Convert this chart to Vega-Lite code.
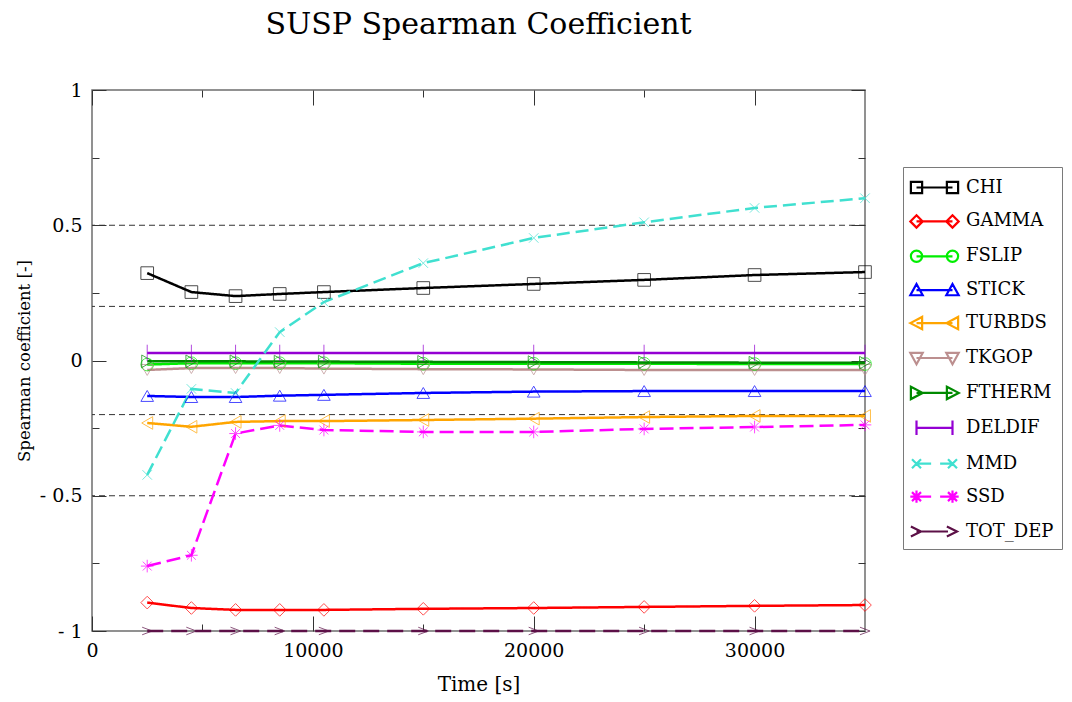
{
  "$schema": "https://vega.github.io/schema/vega-lite/v6.json",
  "width": 773,
  "height": 541,
  "autosize": {"type": "none"},
  "padding": {"left": 92, "top": 90, "right": 207, "bottom": 71},
  "title": {"text": "SUSP Spearman Coefficient", "font": "DejaVu Serif", "fontSize": 30, "fontWeight": "normal", "color": "#000", "baseline": "alphabetic", "offset": 17, "anchor": "middle"},
  "config": {
    "view": {"stroke": "#6e6e6e", "strokeWidth": 1.5},
    "axis": {"labelFont": "DejaVu Serif", "labelFontSize": 19, "labelColor": "#000", "titleFont": "DejaVu Serif", "titleFontSize": 20, "titleFontWeight": "normal", "titleColor": "#000", "domain": false, "grid": false, "tickColor": "#333", "tickWidth": 1, "labelFlush": false, "labelOverlap": false},
    "legend": {"labelFont": "DejaVu Serif", "labelFontSize": 18, "labelColor": "#000"}
  },
  "datasets": {
    "d": [
      {"t":2500,"s":"CHI","v":0.323},{"t":4500,"s":"CHI","v":0.253},{"t":6500,"s":"CHI","v":0.238},{"t":8500,"s":"CHI","v":0.246},{"t":10500,"s":"CHI","v":0.253},{"t":15000,"s":"CHI","v":0.268},{"t":20000,"s":"CHI","v":0.283},{"t":25000,"s":"CHI","v":0.298},{"t":30000,"s":"CHI","v":0.316},{"t":35000,"s":"CHI","v":0.327},
      {"t":2500,"s":"GAMMA","v":-0.895},{"t":4500,"s":"GAMMA","v":-0.915},{"t":6500,"s":"GAMMA","v":-0.922},{"t":8500,"s":"GAMMA","v":-0.922},{"t":10500,"s":"GAMMA","v":-0.922},{"t":15000,"s":"GAMMA","v":-0.918},{"t":20000,"s":"GAMMA","v":-0.915},{"t":25000,"s":"GAMMA","v":-0.911},{"t":30000,"s":"GAMMA","v":-0.907},{"t":35000,"s":"GAMMA","v":-0.904},
      {"t":2500,"s":"FSLIP","v":-0.015},{"t":4500,"s":"FSLIP","v":-0.01},{"t":6500,"s":"FSLIP","v":-0.01},{"t":8500,"s":"FSLIP","v":-0.01},{"t":10500,"s":"FSLIP","v":-0.01},{"t":15000,"s":"FSLIP","v":-0.012},{"t":20000,"s":"FSLIP","v":-0.012},{"t":25000,"s":"FSLIP","v":-0.012},{"t":30000,"s":"FSLIP","v":-0.013},{"t":35000,"s":"FSLIP","v":-0.013},
      {"t":2500,"s":"STICK","v":-0.131},{"t":4500,"s":"STICK","v":-0.135},{"t":6500,"s":"STICK","v":-0.135},{"t":8500,"s":"STICK","v":-0.13},{"t":10500,"s":"STICK","v":-0.127},{"t":15000,"s":"STICK","v":-0.12},{"t":20000,"s":"STICK","v":-0.115},{"t":25000,"s":"STICK","v":-0.113},{"t":30000,"s":"STICK","v":-0.113},{"t":35000,"s":"STICK","v":-0.113},
      {"t":2500,"s":"TURBDS","v":-0.231},{"t":4500,"s":"TURBDS","v":-0.245},{"t":6500,"s":"TURBDS","v":-0.227},{"t":8500,"s":"TURBDS","v":-0.224},{"t":10500,"s":"TURBDS","v":-0.224},{"t":15000,"s":"TURBDS","v":-0.22},{"t":20000,"s":"TURBDS","v":-0.215},{"t":25000,"s":"TURBDS","v":-0.209},{"t":30000,"s":"TURBDS","v":-0.205},{"t":35000,"s":"TURBDS","v":-0.205},
      {"t":2500,"s":"TKGOP","v":-0.035},{"t":4500,"s":"TKGOP","v":-0.028},{"t":6500,"s":"TKGOP","v":-0.028},{"t":8500,"s":"TKGOP","v":-0.028},{"t":10500,"s":"TKGOP","v":-0.03},{"t":15000,"s":"TKGOP","v":-0.032},{"t":20000,"s":"TKGOP","v":-0.033},{"t":25000,"s":"TKGOP","v":-0.035},{"t":30000,"s":"TKGOP","v":-0.035},{"t":35000,"s":"TKGOP","v":-0.035},
      {"t":2500,"s":"FTHERM","v":-0.003},{"t":4500,"s":"FTHERM","v":-0.003},{"t":6500,"s":"FTHERM","v":-0.003},{"t":8500,"s":"FTHERM","v":-0.004},{"t":10500,"s":"FTHERM","v":-0.004},{"t":15000,"s":"FTHERM","v":-0.005},{"t":20000,"s":"FTHERM","v":-0.006},{"t":25000,"s":"FTHERM","v":-0.007},{"t":30000,"s":"FTHERM","v":-0.008},{"t":35000,"s":"FTHERM","v":-0.008},
      {"t":2500,"s":"DELDIF","v":0.028},{"t":4500,"s":"DELDIF","v":0.028},{"t":6500,"s":"DELDIF","v":0.028},{"t":8500,"s":"DELDIF","v":0.028},{"t":10500,"s":"DELDIF","v":0.028},{"t":15000,"s":"DELDIF","v":0.028},{"t":20000,"s":"DELDIF","v":0.028},{"t":25000,"s":"DELDIF","v":0.028},{"t":30000,"s":"DELDIF","v":0.028},{"t":35000,"s":"DELDIF","v":0.028},
      {"t":2500,"s":"MMD","v":-0.423},{"t":4500,"s":"MMD","v":-0.105},{"t":6500,"s":"MMD","v":-0.12},{"t":8500,"s":"MMD","v":0.105},{"t":10500,"s":"MMD","v":0.216},{"t":15000,"s":"MMD","v":0.36},{"t":20000,"s":"MMD","v":0.453},{"t":25000,"s":"MMD","v":0.511},{"t":30000,"s":"MMD","v":0.564},{"t":35000,"s":"MMD","v":0.6},
      {"t":2500,"s":"SSD","v":-0.76},{"t":4500,"s":"SSD","v":-0.72},{"t":6500,"s":"SSD","v":-0.27},{"t":8500,"s":"SSD","v":-0.24},{"t":10500,"s":"SSD","v":-0.257},{"t":15000,"s":"SSD","v":-0.264},{"t":20000,"s":"SSD","v":-0.264},{"t":25000,"s":"SSD","v":-0.253},{"t":30000,"s":"SSD","v":-0.246},{"t":35000,"s":"SSD","v":-0.238},
      {"t":2500,"s":"TOT_DEP","v":-1},{"t":4500,"s":"TOT_DEP","v":-1},{"t":6500,"s":"TOT_DEP","v":-1},{"t":8500,"s":"TOT_DEP","v":-1},{"t":10500,"s":"TOT_DEP","v":-1},{"t":15000,"s":"TOT_DEP","v":-1},{"t":20000,"s":"TOT_DEP","v":-1},{"t":25000,"s":"TOT_DEP","v":-1},{"t":30000,"s":"TOT_DEP","v":-1},{"t":35000,"s":"TOT_DEP","v":-1}
    ],
    "grid": [{"g": 0.5}, {"g": 0.2}, {"g": -0.2}, {"g": -0.5}]
  },
  "resolve": {
    "scale": {"color": "independent", "shape": "independent"},
    "axis": {"x": "independent", "y": "independent"},
    "legend": {"color": "independent", "shape": "independent"}
  },
  "layer": [
    {
      "data": {"name": "grid"},
      "mark": {"type": "rule", "strokeDash": [6, 4], "color": "#333", "strokeWidth": 1},
      "encoding": {
        "y": {"field": "g", "type": "quantitative", "scale": {"domain": [-1, 1], "nice": false, "zero": false}, "axis": null}
      }
    },
    {
      "data": {"name": "d"},
      "mark": {"type": "line", "strokeWidth": 2.5},
      "encoding": {
        "x": {"field": "t", "type": "quantitative", "scale": {"domain": [0, 35000], "nice": false, "zero": false},
              "axis": {"orient": "top", "values": [0, 5000, 10000, 15000, 20000, 25000, 30000], "labels": false, "title": null,
                       "tickSize": {"condition": {"test": "datum.value % 10000 === 0", "value": -15}, "value": -7}}},
        "y": {"field": "v", "type": "quantitative", "scale": {"domain": [-1, 1], "nice": false, "zero": false},
              "axis": {"orient": "right", "values": [-1, -0.75, -0.5, -0.25, 0, 0.25, 0.5, 0.75, 1], "labels": false, "title": null,
                       "tickSize": {"condition": {"test": "abs(datum.value) == 1 || abs(datum.value) == 0.5 || datum.value == 0", "value": -14}, "value": -7}}},
        "color": {"field": "s", "type": "nominal", "legend": null,
                  "scale": {"domain": ["CHI","GAMMA","FSLIP","STICK","TURBDS","TKGOP","FTHERM","DELDIF","MMD","SSD","TOT_DEP"],
                            "range": ["#000000","#ff0000","#00ee00","#0000ff","#ffa500","#bc8f8f","#008a00","#9400d3","#40e0d0","#ff00ff","#5c1047"]}},
        "strokeDash": {"field": "s", "type": "nominal", "legend": null,
                  "scale": {"domain": ["CHI","GAMMA","FSLIP","STICK","TURBDS","TKGOP","FTHERM","DELDIF","MMD","SSD","TOT_DEP"],
                            "range": [[1,0],[1,0],[1,0],[1,0],[1,0],[1,0],[1,0],[1,0],[13,6],[14,6],[16,8]]}}
      }
    },
    {
      "data": {"name": "d"},
      "mark": {"type": "point", "filled": false, "size": 160, "strokeWidth": 1, "opacity": 0.7},
      "encoding": {
        "x": {"field": "t", "type": "quantitative", "scale": {"domain": [0, 35000], "nice": false, "zero": false},
              "axis": {"orient": "bottom", "values": [0, 5000, 10000, 15000, 20000, 25000, 30000], "format": "d",
                       "labelExpr": "datum.value % 10000 === 0 ? datum.label : ''", "labelPadding": 25,
                       "tickSize": {"condition": {"test": "datum.value % 10000 === 0", "value": -15}, "value": -7},
                       "title": "Time [s]", "titlePadding": 6}},
        "y": {"field": "v", "type": "quantitative", "scale": {"domain": [-1, 1], "nice": false, "zero": false},
              "axis": {"orient": "left", "values": [-1, -0.75, -0.5, -0.25, 0, 0.25, 0.5, 0.75, 1],
                       "labelExpr": "(abs(datum.value) == 1 || abs(datum.value) == 0.5 || datum.value == 0) ? (datum.value < 0 ? '- ' + format(-datum.value, '') : format(datum.value, '')) : ''",
                       "labelPadding": 24,
                       "tickSize": {"condition": {"test": "abs(datum.value) == 1 || abs(datum.value) == 0.5 || datum.value == 0", "value": -14}, "value": -7},
                       "title": "Spearman coefficient [-]", "titleFontSize": 16.5, "titlePadding": 7}},
        "color": {"field": "s", "type": "nominal", "legend": null,
                  "scale": {"domain": ["CHI","GAMMA","FSLIP","STICK","TURBDS","TKGOP","FTHERM","DELDIF","MMD","SSD","TOT_DEP"],
                            "range": ["#000000","#ff0000","#00ee00","#0000ff","#ffa500","#bc8f8f","#008a00","#9400d3","#40e0d0","#ff00ff","#5c1047"]}},
        "shape": {"field": "s", "type": "nominal", "legend": null,
                  "scale": {"domain": ["CHI","GAMMA","FSLIP","STICK","TURBDS","TKGOP","FTHERM","DELDIF","MMD","SSD","TOT_DEP"],
                            "range": ["square","diamond","circle","triangle-up","triangle-left","triangle-down","triangle-right",
                                      "M0,-1.3L0,1.3",
                                      "M-0.75,-0.75L0.75,0.75M-0.75,0.75L0.75,-0.75",
                                      "M0,-1L0,1M-1,0L1,0M-0.7,-0.7L0.7,0.7M-0.7,0.7L0.7,-0.7",
                                      "M-0.8,-0.6L0.8,0L-0.8,0.6"]}}
      }
    },
    {
      "data": {"name": "d"},
      "mark": {"type": "point", "filled": false, "opacity": 0},
      "encoding": {
        "x": {"field": "t", "type": "quantitative", "axis": null},
        "y": {"field": "v", "type": "quantitative", "axis": null},
        "color": {"field": "s", "type": "nominal",
                  "scale": {"domain": ["CHI","GAMMA","FSLIP","STICK","TURBDS","TKGOP","FTHERM","DELDIF","MMD","SSD","TOT_DEP"],
                            "range": ["#000000","#ff0000","#00ee00","#0000ff","#ffa500","#bc8f8f","#008a00","#9400d3","#40e0d0","#ff00ff","#5c1047"]},
                  "legend": {"title": null, "orient": "none", "legendX": 811, "legendY": 77, "padding": 8, "strokeColor": "#7a7a7a", "fillColor": "#ffffff",
                             "symbolSize": 506, "symbolStrokeWidth": 2.2, "symbolOpacity": 1, "symbolFillColor": "transparent",
                             "symbolOffset": 11, "labelOffset": 19, "rowPadding": 10.9}},
        "shape": {"field": "s", "type": "nominal",
                  "scale": {"domain": ["CHI","GAMMA","FSLIP","STICK","TURBDS","TKGOP","FTHERM","DELDIF","MMD","SSD","TOT_DEP"],
                            "range": [
                              "M-1.6,0H1.6M-2.1,-0.5H-1.1V0.5H-2.1ZM1.1,-0.5H2.1V0.5H1.1Z",
                              "M-1.6,0H1.6M-1.6,-0.55L-1.05,0L-1.6,0.55L-2.15,0ZM1.6,-0.55L2.15,0L1.6,0.55L1.05,0Z",
                              "M-1.6,0H1.6M-2.1,0A0.5,0.5 0 1,0 -1.1,0A0.5,0.5 0 1,0 -2.1,0ZM1.1,0A0.5,0.5 0 1,0 2.1,0A0.5,0.5 0 1,0 1.1,0Z",
                              "M-1.6,0H1.6M-1.6,-0.55L-1.05,0.45L-2.15,0.45ZM1.6,-0.55L2.15,0.45L1.05,0.45Z",
                              "M-1.6,0H1.6M-2.15,0L-1.1,-0.55L-1.1,0.55ZM1.05,0L2.1,-0.55L2.1,0.55Z",
                              "M-1.6,0H1.6M-2.15,-0.45L-1.05,-0.45L-1.6,0.55ZM1.05,-0.45L2.15,-0.45L1.6,0.55Z",
                              "M-1.6,0H1.6M-2.1,-0.55L-1.05,0L-2.1,0.55ZM1.1,-0.55L2.15,0L1.1,0.55Z",
                              "M-1.6,0H1.6M-1.6,-0.65V0.65M1.6,-0.65V0.65",
                              "M-1.6,0H-0.3M0.5,0H1.6M-2,-0.4L-1.2,0.4M-2,0.4L-1.2,-0.4M1.2,-0.4L2,0.4M1.2,0.4L2,-0.4",
                              "M-1.6,0H-0.3M0.5,0H1.6M-1.6,-0.55V0.55M-2.15,0H-1.05M-2,-0.4L-1.2,0.4M-2,0.4L-1.2,-0.4M1.6,-0.55V0.55M1.05,0H2.15M1.2,-0.4L2,0.4M1.2,0.4L2,-0.4",
                              "M-1.6,0H1.2M-2.1,-0.45L-1.2,0L-2.1,0.45M1.1,-0.45L2,0L1.1,0.45"
                            ]},
                  "legend": {"title": null}}
      }
    }
  ]
}
